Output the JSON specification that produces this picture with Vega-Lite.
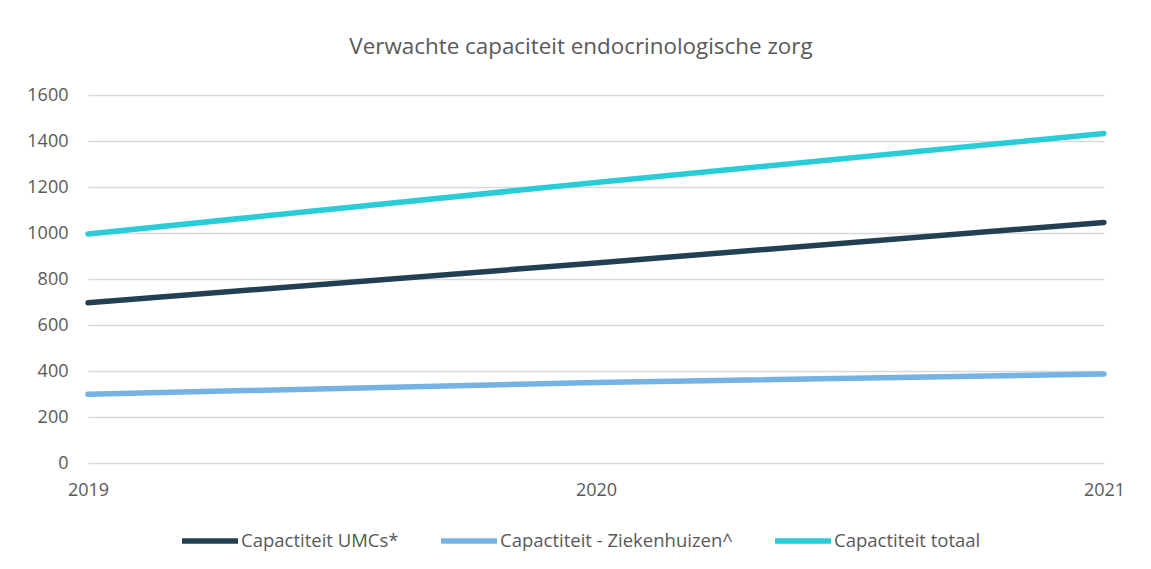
{
  "$schema": "https://vega.github.io/schema/vega-lite/v6.json",
  "width": 1016,
  "height": 368,
  "autosize": {"type": "none"},
  "padding": {"left": 88, "top": 95, "right": 47, "bottom": 106},
  "background": "white",
  "title": {
    "text": "Verwachte capaciteit endocrinologische zorg",
    "font": "Open Sans",
    "fontSize": 22.4,
    "fontWeight": "normal",
    "color": "#595959",
    "anchor": "middle",
    "dx": -15,
    "offset": 28
  },
  "data": {
    "values": [
      {"jaar": "2019", "reeks": "Capactiteit UMCs*", "waarde": 697},
      {"jaar": "2020", "reeks": "Capactiteit UMCs*", "waarde": 870},
      {"jaar": "2021", "reeks": "Capactiteit UMCs*", "waarde": 1046},
      {"jaar": "2019", "reeks": "Capactiteit - Ziekenhuizen^", "waarde": 299},
      {"jaar": "2020", "reeks": "Capactiteit - Ziekenhuizen^", "waarde": 350},
      {"jaar": "2021", "reeks": "Capactiteit - Ziekenhuizen^", "waarde": 387},
      {"jaar": "2019", "reeks": "Capactiteit totaal", "waarde": 996},
      {"jaar": "2020", "reeks": "Capactiteit totaal", "waarde": 1220},
      {"jaar": "2021", "reeks": "Capactiteit totaal", "waarde": 1433}
    ]
  },
  "mark": {"type": "line", "strokeWidth": 5.5, "strokeCap": "round"},
  "encoding": {
    "x": {
      "field": "jaar",
      "type": "ordinal",
      "scale": {"type": "point", "padding": 0},
      "axis": {
        "title": null,
        "labelAngle": 0,
        "domain": false,
        "ticks": false,
        "grid": false,
        "labelPadding": 18,
        "labelFont": "Open Sans",
        "labelFontSize": 18,
        "labelColor": "#595959"
      }
    },
    "y": {
      "field": "waarde",
      "type": "quantitative",
      "scale": {"domain": [0, 1600], "nice": false},
      "axis": {
        "title": null,
        "values": [0, 200, 400, 600, 800, 1000, 1200, 1400, 1600],
        "format": "d",
        "domain": false,
        "ticks": false,
        "labelPadding": 20,
        "labelFont": "Open Sans",
        "labelFontSize": 18,
        "labelColor": "#595959",
        "gridColor": "#d9d9d9",
        "gridWidth": 1.5
      }
    },
    "color": {
      "field": "reeks",
      "type": "nominal",
      "scale": {
        "domain": ["Capactiteit UMCs*", "Capactiteit - Ziekenhuizen^", "Capactiteit totaal"],
        "range": ["#233F54", "#74B3E3", "#29CCD7"]
      },
      "legend": {
        "title": null,
        "orient": "none",
        "direction": "horizontal",
        "legendX": 91,
        "legendY": 415,
        "symbolType": "stroke",
        "symbolSize": 3136,
        "symbolStrokeWidth": 5.5,
        "labelOffset": 0,
        "columnPadding": 31,
        "labelFont": "Open Sans",
        "labelFontSize": 18.5,
        "labelColor": "#595959",
        "labelLimit": 400
      }
    }
  },
  "config": {"view": {"stroke": null}}
}
